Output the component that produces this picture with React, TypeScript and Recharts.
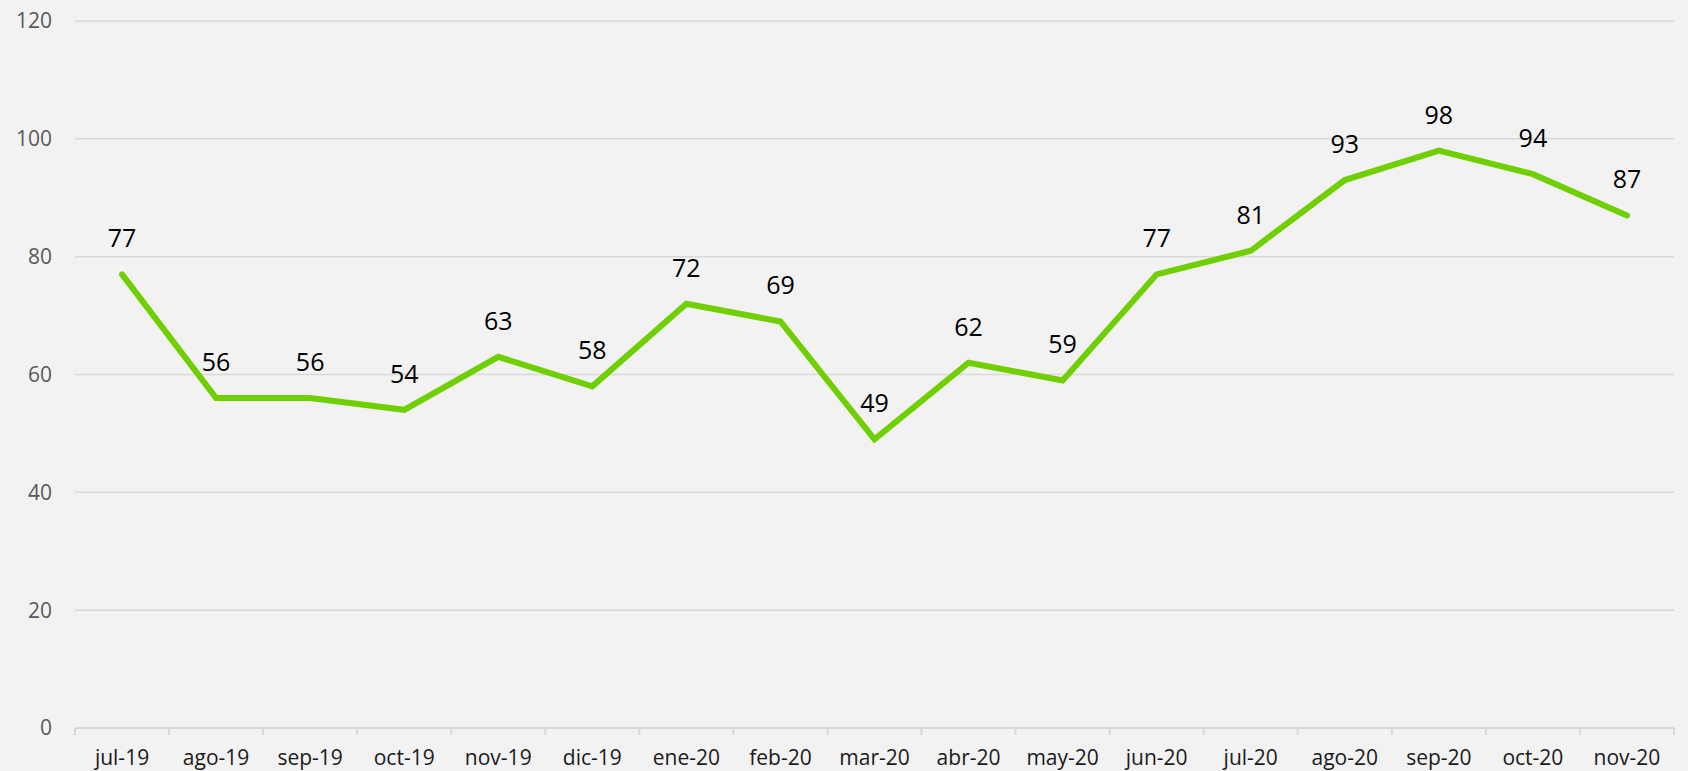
import { LineChart, Line, XAxis, YAxis, CartesianGrid, LabelList } from "recharts";

const months = [
  "jul-19", "ago-19", "sep-19", "oct-19", "nov-19", "dic-19", "ene-20", "feb-20", "mar-20",
  "abr-20", "may-20", "jun-20", "jul-20", "ago-20", "sep-20", "oct-20", "nov-20",
];
const values = [77, 56, 56, 54, 63, 58, 72, 69, 49, 62, 59, 77, 81, 93, 98, 94, 87];
const yTicks = [0, 20, 40, 60, 80, 100, 120];

const data = months.map((m, i) => ({ month: m, value: values[i] }));

const W = 1688;
const H = 771;
const FONT = "'Open Sans', sans-serif";
const HALF_BAND = (W - 75 - 14) / months.length / 2;

const MonthTick = (props: any) => {
  const { x, y, payload, index } = props;
  const half = payload?.offset || HALF_BAND;
  return (
    <g>
      <line x1={x - half} x2={x - half} y1={y} y2={y + 7} stroke="#d9d9d9" strokeWidth={2} />
      {index === months.length - 1 && (
        <line x1={x + half} x2={x + half} y1={y} y2={y + 7} stroke="#d9d9d9" strokeWidth={2} />
      )}
      <text x={x} y={y + 37} textAnchor="middle" fontSize={21} fill="#1a1a1a" fontFamily={FONT}>
        {payload.value}
      </text>
    </g>
  );
};

export default function App() {
  return (
    <div style={{ position: "absolute", left: 0, top: 0, width: W, height: H, background: "#f2f2f2" }}>
      <LineChart width={W} height={H} data={data} margin={{ top: 21, right: 14, bottom: 0, left: 0 }}>
        <CartesianGrid vertical={false} stroke="#d9d9d9" strokeWidth={1.5} />
        <XAxis
          dataKey="month"
          scale="band"
          height={43}
          axisLine={{ stroke: "#d9d9d9", strokeWidth: 2 }}
          tickLine={false}
          tickSize={0}
          tickMargin={0}
          tick={<MonthTick />}
          interval={0}
        />
        <YAxis
          width={75}
          domain={[0, 120]}
          ticks={yTicks}
          axisLine={false}
          tickLine={false}
          tickMargin={17}
          tick={{ fill: "#595959", fontSize: 21, fontFamily: FONT }}
        />
        <Line
          type="linear"
          dataKey="value"
          stroke="#6fcf00"
          strokeWidth={6}
          strokeLinecap="round"
          dot={false}
          isAnimationActive={false}
        >
          <LabelList dataKey="value" position="top" offset={27} fill="#000" fontSize={25} fontFamily={FONT} />
        </Line>
      </LineChart>
    </div>
  );
}
